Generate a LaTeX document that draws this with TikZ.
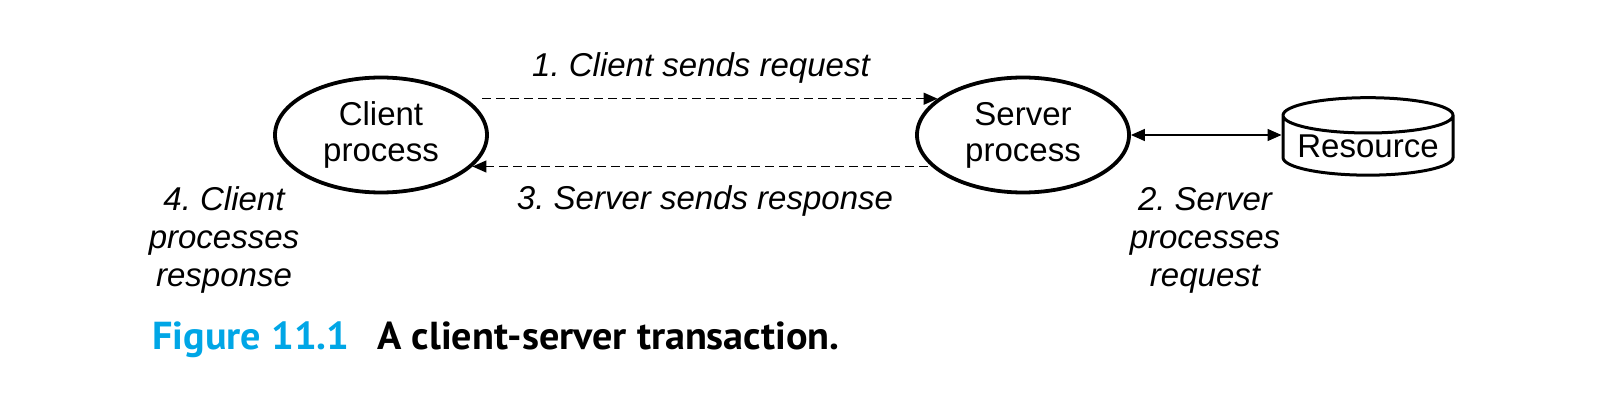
\documentclass[tikz,border=0pt]{standalone}
\usepackage{fontspec}
\setmainfont{Liberation Sans}
\newfontfamily\capfont[FakeStretch=1.03]{PT Sans}
\usetikzlibrary{arrows.meta,shapes.geometric}
\definecolor{figblue}{RGB}{0,166,230}
\frenchspacing

\begin{document}
\begin{tikzpicture}[x=0.5pt,y=-0.5pt,>={Triangle[length=7pt,width=6pt]},
    proc/.style={ellipse,draw,line width=1.9pt,minimum width=106pt,minimum height=57.5pt,
      inner sep=0pt,align=center,font=\fontsize{16.5}{18}\selectfont},
    msg/.style={->,line width=0.75pt,dash pattern=on 4.5pt off 2.5pt},
    lbl/.style={font=\fontsize{16.5}{19}\selectfont\itshape,align=center}]
    \useasboundingbox (0,0) rectangle (1622,411);
    % --- the two processes and the resource
    \node[proc] (client) at (381,135) {Client\\process};
    \node[proc] (server) at (1023,135) {Server\\process};
    \node[cylinder,shape border rotate=90,draw,line width=1.5pt,aspect=0.25,
      minimum width=85pt,minimum height=32.5pt,inner sep=0pt,
      font=\fontsize{16.5}{19}\selectfont] (res) at (1368,146) {Resource};
    % --- messages
    \draw[msg,shorten <=8pt] (client.23) -- (server.157);
    \draw[msg,shorten <=2pt] (server.199) -- (client.-19);
    \draw[line width=0.75pt,<->] (server.east) -- (server.east -| res.west);
    % --- steps
    \node[lbl] (req) at (701,68) {1. Client sends request};
    \node[lbl] (resp) at (705,201) {3. Server sends response};
    \node[lbl] (srvstep) at (1205,240) {2. Server\\processes\\request};
    \node[lbl] (clistep) at (224,240) {4. Client\\processes\\response};
    % --- caption
    \node[anchor=base west,inner sep=0pt,text=figblue,
      font=\capfont\bfseries\fontsize{19.5}{22}\selectfont] (fignum) at (152,350) {Figure 11.1};
    \node[anchor=base west,inner sep=0pt,
      font=\capfont\bfseries\fontsize{19.5}{22}\selectfont] (figtext) at (377,350) {A client-server transaction.};
\end{tikzpicture}
\end{document}
